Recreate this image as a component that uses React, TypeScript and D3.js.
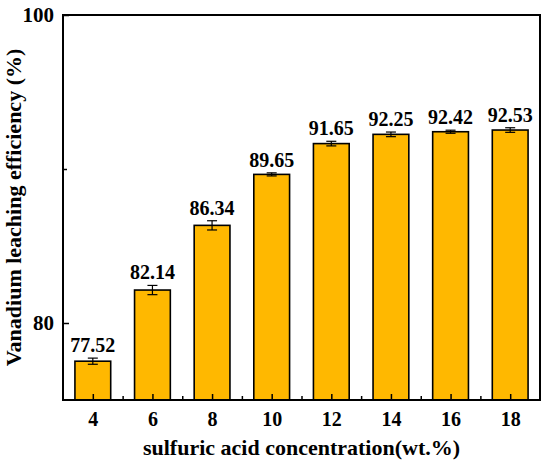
import React, { useEffect, useRef } from 'react';
import * as d3 from 'd3';

const concentrations = [4, 6, 8, 10, 12, 14, 16, 18];
const efficiency = [77.52, 82.14, 86.34, 89.65, 91.65, 92.25, 92.42, 92.53];
const errors = [0.2, 0.3, 0.3, 0.1, 0.15, 0.15, 0.1, 0.15];
const yTicks = [80, 100];
const yMinorTicks = [90];
const xMinorTicks = [5, 7, 9, 11, 13, 15, 17];

const App: React.FC = () => {
    const ref = useRef<SVGSVGElement>(null);
    const W = 550;
    const H = 467;
    const margin = { top: 15, right: 10, bottom: 67, left: 63 };
    const width = W - margin.left - margin.right;
    const height = H - margin.top - margin.bottom;

    useEffect(() => {
        if (!ref.current) return;
        const root = d3.select(ref.current);
        root.selectAll('*').remove();
        const font = '"Liberation Serif", "Times New Roman", serif';

        const svg = root.append('g').attr('transform', `translate(${margin.left},${margin.top})`);

        const x = d3.scaleLinear().domain([3, 19]).range([0, width]);
        const y = d3.scaleLinear().domain([75, 100]).range([height, 0]);
        const barW = x(4.6) - x(4);

        const data = concentrations.map((c, i) => ({ c, v: efficiency[i], e: errors[i] }));

        // бары
        svg
            .selectAll('.bar')
            .data(data)
            .enter()
            .append('rect')
            .attr('x', (d) => x(d.c) - barW)
            .attr('y', (d) => y(d.v))
            .attr('width', barW * 2)
            .attr('height', (d) => height - y(d.v))
            .attr('fill', '#FFB800')
            .attr('stroke', '#000')
            .attr('stroke-width', 1.6);

        // планки погрешностей
        const eb = svg.selectAll('.err').data(data).enter().append('g');
        eb.append('line')
            .attr('x1', (d) => x(d.c))
            .attr('x2', (d) => x(d.c))
            .attr('y1', (d) => y(d.v + d.e))
            .attr('y2', (d) => y(d.v - d.e))
            .attr('stroke', '#000')
            .attr('stroke-width', 1.2);
        [1, -1].forEach((s) => {
            eb.append('line')
                .attr('x1', (d) => x(d.c) - 5)
                .attr('x2', (d) => x(d.c) + 5)
                .attr('y1', (d) => y(d.v + s * d.e))
                .attr('y2', (d) => y(d.v + s * d.e))
                .attr('stroke', '#000')
                .attr('stroke-width', 1.2);
        });

        // подписи значений
        svg
            .selectAll('.lbl')
            .data(data)
            .enter()
            .append('text')
            .attr('x', (d) => x(d.c))
            .attr('y', (d) => y(d.v + d.e) - 6)
            .attr('text-anchor', 'middle')
            .attr('font-family', font)
            .attr('font-weight', 'bold')
            .attr('font-size', 20)
            .text((d) => d.v.toFixed(2));

        // оси
        const xAxis = svg
            .append('g')
            .attr('transform', `translate(0,${height})`)
            .call(d3.axisBottom(x).tickValues(concentrations).tickSize(-6).tickPadding(12).tickFormat(d3.format('d')));
        svg.append('g')
            .attr('transform', `translate(0,${height})`)
            .call(d3.axisBottom(x).tickValues(xMinorTicks).tickSize(-4).tickFormat(() => ''))
            .call((g) => g.select('.domain').remove());

        const yAxis = svg
            .append('g')
            .call(d3.axisLeft(y).tickValues(yTicks).tickSize(-6).tickPadding(9).tickFormat(d3.format('d')));
        svg.append('g')
            .call(d3.axisLeft(y).tickValues(yMinorTicks).tickSize(-4).tickFormat(() => ''))
            .call((g) => g.select('.domain').remove());

        [xAxis, yAxis].forEach((g, i) => {
            g.select('.domain').remove();
            g.selectAll('text')
                .attr('font-family', font)
                .attr('font-weight', 'bold')
                .attr('font-size', i === 0 ? 20 : 21)
                .attr('fill', '#000');
        });
        svg.selectAll('.tick line').attr('stroke', '#000').attr('stroke-width', 1.5);

        // рамка
        svg.append('rect')
            .attr('width', width)
            .attr('height', height)
            .attr('fill', 'none')
            .attr('stroke', '#000')
            .attr('stroke-width', 2);

        // заголовки осей
        svg.append('text')
            .attr('x', width / 2)
            .attr('y', height + 55)
            .attr('text-anchor', 'middle')
            .attr('font-family', font)
            .attr('font-weight', 'bold')
            .attr('font-size', 22)
            .text('sulfuric acid concentration(wt.%)');

        svg.append('text')
            .attr('transform', `translate(${-42},${height / 2}) rotate(-90)`)
            .attr('text-anchor', 'middle')
            .attr('font-family', font)
            .attr('font-weight', 'bold')
            .attr('font-size', 22)
            .text('Vanadium leaching efficiency (%)');
    }, []);

    return <svg ref={ref} width={W} height={H} style={{ position: 'absolute', left: 0, top: 0, background: '#fff' }} />;
};

export default App;
